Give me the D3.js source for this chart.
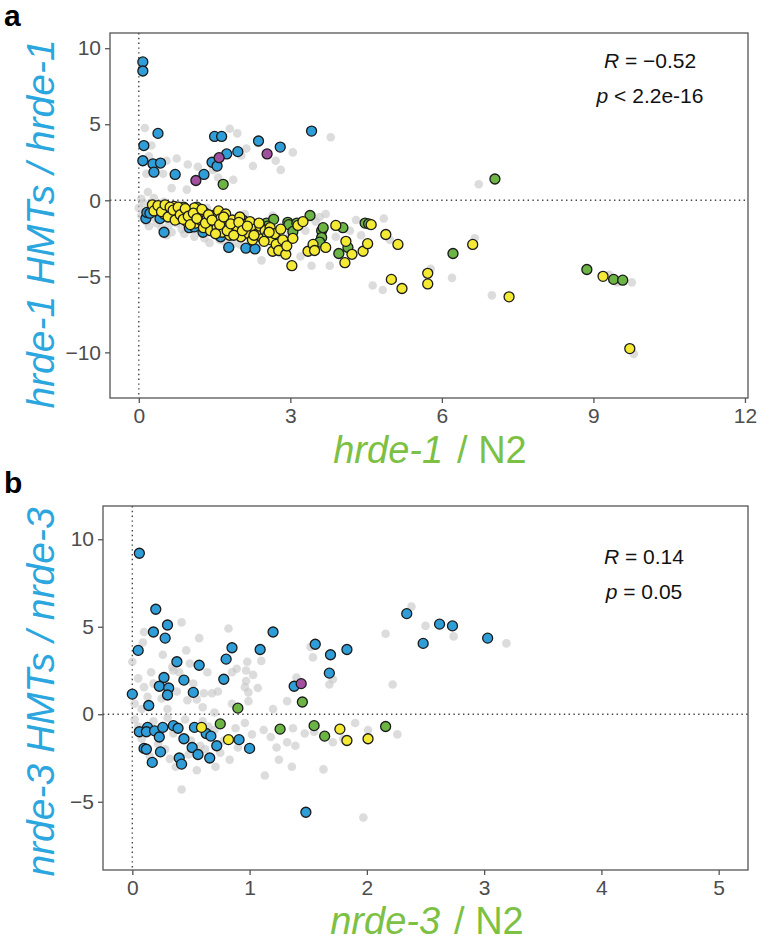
<!DOCTYPE html>
<html>
<head>
<meta charset="utf-8">
<script src="https://cdn.jsdelivr.net/npm/d3@7"></script>
<style>
  body { margin: 0; background: #fff; }
  svg { font-family: "Liberation Sans", Arial, sans-serif; }
</style>
</head>
<body>
<svg id="chart" width="760" height="945"></svg>
<script>
// panel a: hrde-1 HMTs / hrde-1 vs hrde-1 / N2
let grayA = [
  [0.12,4.75],[0.25,3.6],[0.75,2.75],[0.97,2.35],[1.8,4.7],[1.95,4.4],[2.13,3.4],[2.26,2.25],[2.36,3.75],
  [2.71,2.6],[2.81,2.0],[3.05,3.15],[3.8,4.15],[1.87,1.35],[1.57,1.5],[0.65,0.8],[0.95,0.7],[0.18,0.55],
  [0.48,1.75],[0.15,1.75],[0.35,2.2],[2.03,2.95],[1.17,2.2],[1.47,2.0],[6.73,1.05],[0.05,0.1],[0.3,0.15],
  [1.6,2.9],[0.55,2.6],[0.2,2.9],
  [4.85,-1.2],[6.65,-2.5],[4.83,-5.9],[5.78,-4.5],[6.2,-5.1],[6.99,-6.25],[9.31,-4.9],[9.47,-5.4],[9.76,-5.4],
  [9.8,-10.1],[4.97,-2.6],[2.43,-3.95],[3.42,-4.3],[3.78,-4.3],[4.63,-5.6],[3.58,-1.1],[4.18,-2.0],
  [0.0,-0.5],[0.05,-1.0],[0.15,-1.4],[0.2,-1.7],[0.3,-1.1],[0.35,-1.5],[0.45,-1.8],[0.55,-2.3],[0.6,-1.6],
  [0.65,-2.1],[0.75,-1.5],[0.85,-1.9],[0.9,-2.2],[1.0,-0.6],[1.05,-1.9],[1.1,-2.4],[1.2,-1.0],[1.3,-2.5],
  [1.4,-2.8],[1.5,-0.8],[1.6,-2.6],[1.7,-2.7],[1.85,-2.9],[2.0,-2.9],[2.2,-2.6],[2.35,-3.1],[2.5,-2.8],
  [2.65,-1.0],[2.8,-3.5],[3.0,-2.2],[3.2,-3.7],[3.3,-2.0],[3.5,-1.4],[3.9,-2.4],[4.3,-1.3],[4.4,-2.3],
  [0.25,-0.3],[0.1,-0.2],[0.5,-0.1],[0.8,-0.3],[1.35,-0.5],[2.1,-0.9],[3.7,-0.9]
];
let blueA = [
  [0.08,9.1],[0.08,8.5],[0.38,4.4],[0.1,3.6],[0.08,2.6],[0.28,2.4],[0.43,2.45],[0.3,1.85],[0.72,1.7],
  [1.29,1.7],[1.45,2.5],[1.55,2.25],[1.74,3.05],[1.5,4.2],[1.64,4.2],[1.96,3.2],[2.37,3.9],[2.8,3.5],[3.42,4.55],
  [0.14,-1.2],[0.16,-0.8],[0.22,-0.85],[0.4,-0.85],[0.42,-1.2],[0.5,-2.1],[1.0,-1.8],[1.1,-1.75],[1.27,-2.1],
  [1.62,-2.4],[1.78,-3.1],[2.12,-3.15],[2.3,-3.2]
];
let purpleA = [[1.13,1.3],[1.59,2.8],[2.54,3.05]];
let greenA = [
  [1.67,1.05],[7.05,1.4],
  [0.89,-0.45],[1.15,-0.45],[1.6,-1.1],[1.86,-1.3],[2.06,-1.3],[2.3,-1.6],[2.53,-1.5],[2.67,-1.25],[2.55,-1.7],
  [2.95,-1.45],[2.97,-1.6],[3.05,-2.05],[3.13,-1.5],[3.39,-1.0],[3.62,-2.0],[3.65,-1.8],[3.62,-2.45],[3.58,-2.75],
  [3.96,-3.5],[4.04,-1.8],[4.14,-3.1],[4.48,-1.5],[4.55,-1.55],[6.22,-3.5],[8.87,-4.55],[9.4,-5.2],[9.58,-5.25]
];
let yellowA = [
  [0.27,-0.3],[0.35,-0.6],[0.42,-0.4],[0.5,-0.9],[0.55,-0.5],[0.6,-0.7],[0.65,-1.0],[0.7,-0.4],[0.75,-0.8],
  [0.8,-1.2],[0.85,-0.6],[0.9,-0.9],[0.95,-1.4],[1.0,-0.7],[1.05,-1.1],[1.1,-0.5],[1.12,-1.5],[1.18,-0.9],
  [1.22,-1.3],[1.28,-1.8],[1.3,-0.8],[1.35,-1.2],[1.4,-1.6],[1.42,-2.0],[1.48,-1.0],[1.5,-1.4],[1.55,-1.8],
  [1.58,-0.7],[1.62,-1.2],[1.65,-2.1],[1.7,-1.5],[1.72,-0.9],[1.78,-1.8],[1.8,-2.3],[1.85,-1.3],[1.9,-1.7],
  [1.95,-2.0],[2.0,-1.1],[2.02,-2.4],[2.08,-1.6],[2.12,-1.9],[2.18,-2.2],[2.2,-1.4],[2.25,-2.6],[2.3,-1.9],
  [2.35,-2.2],[2.4,-1.7],[2.45,-2.5],[2.5,-2.0],[2.55,-2.3],[2.6,-1.8],[2.62,-2.6],[2.65,-3.35],[2.69,-2.2],
  [2.72,-2.9],[2.77,-3.3],[2.81,-1.9],[2.85,-2.6],[2.91,-3.55],[2.93,-3.0],[3.03,-4.3],[3.05,-2.5],[3.15,-1.65],
  [3.25,-1.4],[3.35,-3.35],[3.45,-2.9],[3.48,-3.3],[3.7,-3.1],[3.9,-1.65],[4.08,-4.1],[4.1,-2.7],[4.22,-3.55],
  [4.44,-3.35],[4.53,-2.85],[4.6,-1.6],[4.89,-2.25],[5.0,-5.2],[5.13,-2.9],[5.21,-5.8],[5.72,-4.8],[5.72,-5.5],
  [6.61,-2.9],[7.33,-6.35],[9.19,-5.0],[9.72,-9.75],
  [0.3,-0.7],[0.38,-0.35],[0.45,-0.75],[0.52,-0.3],[0.58,-1.1],[0.62,-0.45],[0.68,-0.65],[0.72,-1.3],[0.78,-0.45],
  [0.82,-0.95],[0.88,-1.25],[0.92,-0.55],[0.98,-1.05],[1.02,-1.6],[1.08,-0.85],[1.15,-1.2],[1.25,-0.6],[1.32,-1.5],
  [1.38,-0.95],[1.45,-1.3],[1.52,-2.2],[1.6,-1.6],[1.68,-1.1],[1.75,-2.0],[1.82,-1.55],[1.88,-2.3],[1.98,-1.45],
  [2.05,-2.0],[2.15,-1.7],[2.28,-2.3],[2.38,-1.5],[2.48,-2.7],[2.58,-2.1]
];

// panel b: nrde-3 HMTs / nrde-3 vs nrde-3 / N2
let grayB = [
  [2.38,6.15],[2.5,5.05],[2.74,4.45],[3.19,4.05],[2.16,4.6],[2.22,1.7],[1.32,0.75],[1.68,1.7],[1.71,2.0],
  [1.54,3.25],[1.52,3.85],[1.4,2.1],[0.42,5.25],[0.82,4.9],[0.57,4.35],[0.1,4.7],[0.09,4.1],[0.46,3.65],
  [0.49,2.9],[0.64,2.4],[0.4,2.4],[0.35,2.5],[0.16,2.4],[0.05,2.05],[0.0,3.0],[0.1,1.55],[0.18,1.75],
  [0.98,3.0],[1.1,3.05],[0.97,2.5],[1.03,2.25],[0.97,1.9],[0.96,1.55],[0.99,1.25],[1.07,1.5],[0.99,0.75],
  [0.89,2.6],[0.85,2.4],[0.73,1.3],[0.68,1.2],[0.61,1.2],[0.52,1.75],[0.47,0.8],[0.55,0.85],[0.6,0.4],
  [0.26,3.4],[0.34,2.7],[0.02,0.6],[0.25,0.9],[0.38,1.3],[0.3,0.3],[0.7,0.1],[0.85,0.6],[1.2,0.3],
  [0.13,1.0],[0.08,0.3],
  [1.12,-0.9],[1.13,-3.5],[1.36,-3.0],[1.25,-2.6],[1.63,-3.15],[1.97,-5.9],[0.42,-4.3],[0.83,-2.6],[1.71,-1.6],
  [1.32,-1.6],[1.37,-0.8],[1.47,-1.1],[0.96,-0.5],[1.02,-1.15],[1.23,-1.9],[1.39,-1.8],[0.55,-3.2],[0.37,-3.0],
  [0.32,-2.55],[0.71,-3.0],[2.26,-1.15],[2.01,-0.9],[0.02,-0.3],[0.05,-0.7],[0.08,-1.4],[0.18,-0.4],[0.22,-1.7],
  [0.3,-0.2],[0.35,-1.1],[0.28,-2.0],[0.45,-0.3],[0.5,-1.5],[0.6,-0.4],[0.62,-2.0],[0.7,-0.9],[0.78,-1.5],
  [0.75,-2.2],[0.88,-0.8],[0.9,-1.9],[0.48,-2.3],[1.18,-1.3],[1.55,-1.0],[1.8,-1.4],[1.9,-0.5],[0.15,-2.4],
  [0.58,-1.8],[0.65,-0.7]
];
let blueB = [
  [0.06,9.2],[0.2,6.0],[0.18,4.7],[0.3,5.1],[0.28,4.35],[0.05,3.65],[0.38,3.0],[0.57,2.8],[0.27,2.1],
  [0.23,1.6],[0.31,1.5],[0.3,1.1],[0.44,1.95],[0.52,1.25],[0.0,1.15],[0.14,0.5],[0.78,2.0],[0.8,3.15],
  [0.85,3.8],[1.09,3.7],[1.2,4.7],[1.38,1.6],[1.56,4.0],[1.69,3.4],[1.68,2.35],[1.83,3.7],[2.34,5.75],
  [2.62,5.15],[2.73,5.05],[2.48,4.05],[3.03,4.35],
  [0.06,-1.0],[0.13,-0.75],[0.12,-1.0],[0.19,-0.95],[0.23,-1.3],[0.26,-0.75],[0.35,-0.65],[0.39,-0.8],
  [0.44,-1.4],[0.1,-1.95],[0.12,-2.0],[0.24,-2.15],[0.17,-2.75],[0.4,-2.5],[0.42,-2.85],[0.51,-1.9],
  [0.56,-2.3],[0.53,-0.75],[0.63,-1.1],[0.67,-1.25],[0.72,-1.8],[0.66,-2.5],[0.91,-1.45],[1.0,-1.95],[1.48,-5.6]
];
let purpleB = [[1.44,1.75]];
let greenB = [[0.9,0.35],[1.45,0.7],[0.75,-0.55],[1.26,-0.85],[1.55,-0.65],[1.64,-1.25],[2.16,-0.7]];
let yellowB = [[0.59,-0.75],[0.82,-1.45],[1.77,-0.85],[1.83,-1.5],[2.01,-1.4]];

let xTicksA = [0, 3, 6, 9, 12];
let yTicksA = [-10, -5, 0, 5, 10];
let xTicksB = [0, 1, 2, 3, 4, 5];
let yTicksB = [-5, 0, 5, 10];

let colors = { blue: '#2f9ed8', purple: '#a0509e', green: '#6cb443', yellow: '#f4ea33', gray: '#c4c4c4' };
let blueLab = '#2ba6de';
let greenLab = '#7cc143';

let svg = d3.select('#chart');

function drawPanel(p) {
  let x = d3.scaleLinear().domain(p.xDomain).range([p.left, p.right]);
  let y = d3.scaleLinear().domain(p.yDomain).range([p.bottom, p.top]);
  let g = svg.append('g');

  // dotted zero lines
  g.append('line')
    .attr('x1', p.left).attr('x2', p.right).attr('y1', y(0)).attr('y2', y(0))
    .attr('stroke', '#444').attr('stroke-width', 1.4).attr('stroke-dasharray', '1.4,3.4');
  g.append('line')
    .attr('x1', x(0)).attr('x2', x(0)).attr('y1', p.top).attr('y2', p.bottom)
    .attr('stroke', '#444').attr('stroke-width', 1.4).attr('stroke-dasharray', '1.4,3.4');

  // points
  g.selectAll('circle.gray').data(p.gray).enter().append('circle')
    .attr('cx', d => x(d[0])).attr('cy', d => y(d[1])).attr('r', 4.3)
    .attr('fill', colors.gray).attr('fill-opacity', 0.6);
  let layers = [['blue', p.blue], ['purple', p.purple], ['green', p.green], ['yellow', p.yellow]];
  layers.forEach(function(l) {
    g.selectAll('circle.' + l[0]).data(l[1]).enter().append('circle')
      .attr('cx', d => x(d[0])).attr('cy', d => y(d[1])).attr('r', 5)
      .attr('fill', colors[l[0]]).attr('stroke', '#1b1b1b').attr('stroke-width', 1.3);
  });

  // frame
  g.append('rect')
    .attr('x', p.left).attr('y', p.top).attr('width', p.right - p.left).attr('height', p.bottom - p.top)
    .attr('fill', 'none').attr('stroke', '#555').attr('stroke-width', 1.3);

  let xAxis = g.append('g').attr('transform', 'translate(0,' + p.bottom + ')')
    .call(d3.axisBottom(x).tickValues(p.xTicks).tickFormat(d3.format('d')).tickSize(5).tickPadding(5));
  let yAxis = g.append('g').attr('transform', 'translate(' + p.left + ',0)')
    .call(d3.axisLeft(y).tickValues(p.yTicks).tickFormat(d3.format('d')).tickSize(5).tickPadding(4));
  [xAxis, yAxis].forEach(function(a) {
    a.select('.domain').remove();
    a.selectAll('line').attr('stroke', '#555').attr('stroke-width', 1.3);
    a.selectAll('text').attr('fill', '#4d4d4d').style('font-size', '21px')
      .style('font-family', '"Liberation Sans", Arial, sans-serif');
  });

  // axis titles
  let xt = g.append('text').attr('x', p.xLabelX).attr('y', p.xLabelY)
    .attr('text-anchor', 'middle').attr('fill', greenLab).style('font-size', '38px');
  xt.append('tspan').style('font-style', 'italic').text(p.gene);
  xt.append('tspan').attr('dx', 14).text('/ N2');

  g.append('text')
    .attr('transform', 'translate(' + p.yLabelX + ',' + p.yLabelY + ') rotate(-90)')
    .attr('text-anchor', 'middle').attr('fill', blueLab)
    .style('font-size', '39px').style('font-style', 'italic')
    .text(p.gene + ' HMTs / ' + p.gene);

  // correlation stats
  let s1 = g.append('text').attr('x', p.statX).attr('y', p.statY)
    .attr('text-anchor', 'middle').attr('fill', '#111').style('font-size', '21px');
  s1.append('tspan').style('font-style', 'italic').text('R');
  s1.append('tspan').text(' = ' + p.R);
  let s2 = g.append('text').attr('x', p.statX).attr('y', p.statY + 35)
    .attr('text-anchor', 'middle').attr('fill', '#111').style('font-size', '21px');
  s2.append('tspan').style('font-style', 'italic').text('p');
  s2.append('tspan').text(p.P);

  // panel letter
  svg.append('text').attr('x', 4).attr('y', p.letterY)
    .style('font-size', '30px').style('font-weight', 'bold').attr('fill', '#000')
    .text(p.letter);
}

drawPanel({
  letter: 'a', letterY: 26, gene: 'hrde-1',
  left: 110, right: 748, top: 33, bottom: 398,
  xDomain: [-0.57, 12.06], yDomain: [-13, 11],
  xTicks: xTicksA, yTicks: yTicksA,
  gray: grayA, blue: blueA, purple: purpleA, green: greenA, yellow: yellowA,
  xLabelX: 430, xLabelY: 463, yLabelX: 54, yLabelY: 224,
  statX: 650, statY: 68, R: '\u22120.52', P: ' < 2.2e-16'
});

drawPanel({
  letter: 'b', letterY: 493, gene: 'nrde-3',
  left: 103, right: 748, top: 506, bottom: 870,
  xDomain: [-0.25, 5.25], yDomain: [-8.9, 11.9],
  xTicks: xTicksB, yTicks: yTicksB,
  gray: grayB, blue: blueB, purple: purpleB, green: greenB, yellow: yellowB,
  xLabelX: 427, xLabelY: 934, yLabelX: 54, yLabelY: 692,
  statX: 644, statY: 564, R: '0.14', P: ' = 0.05'
});
</script>
</body>
</html>
